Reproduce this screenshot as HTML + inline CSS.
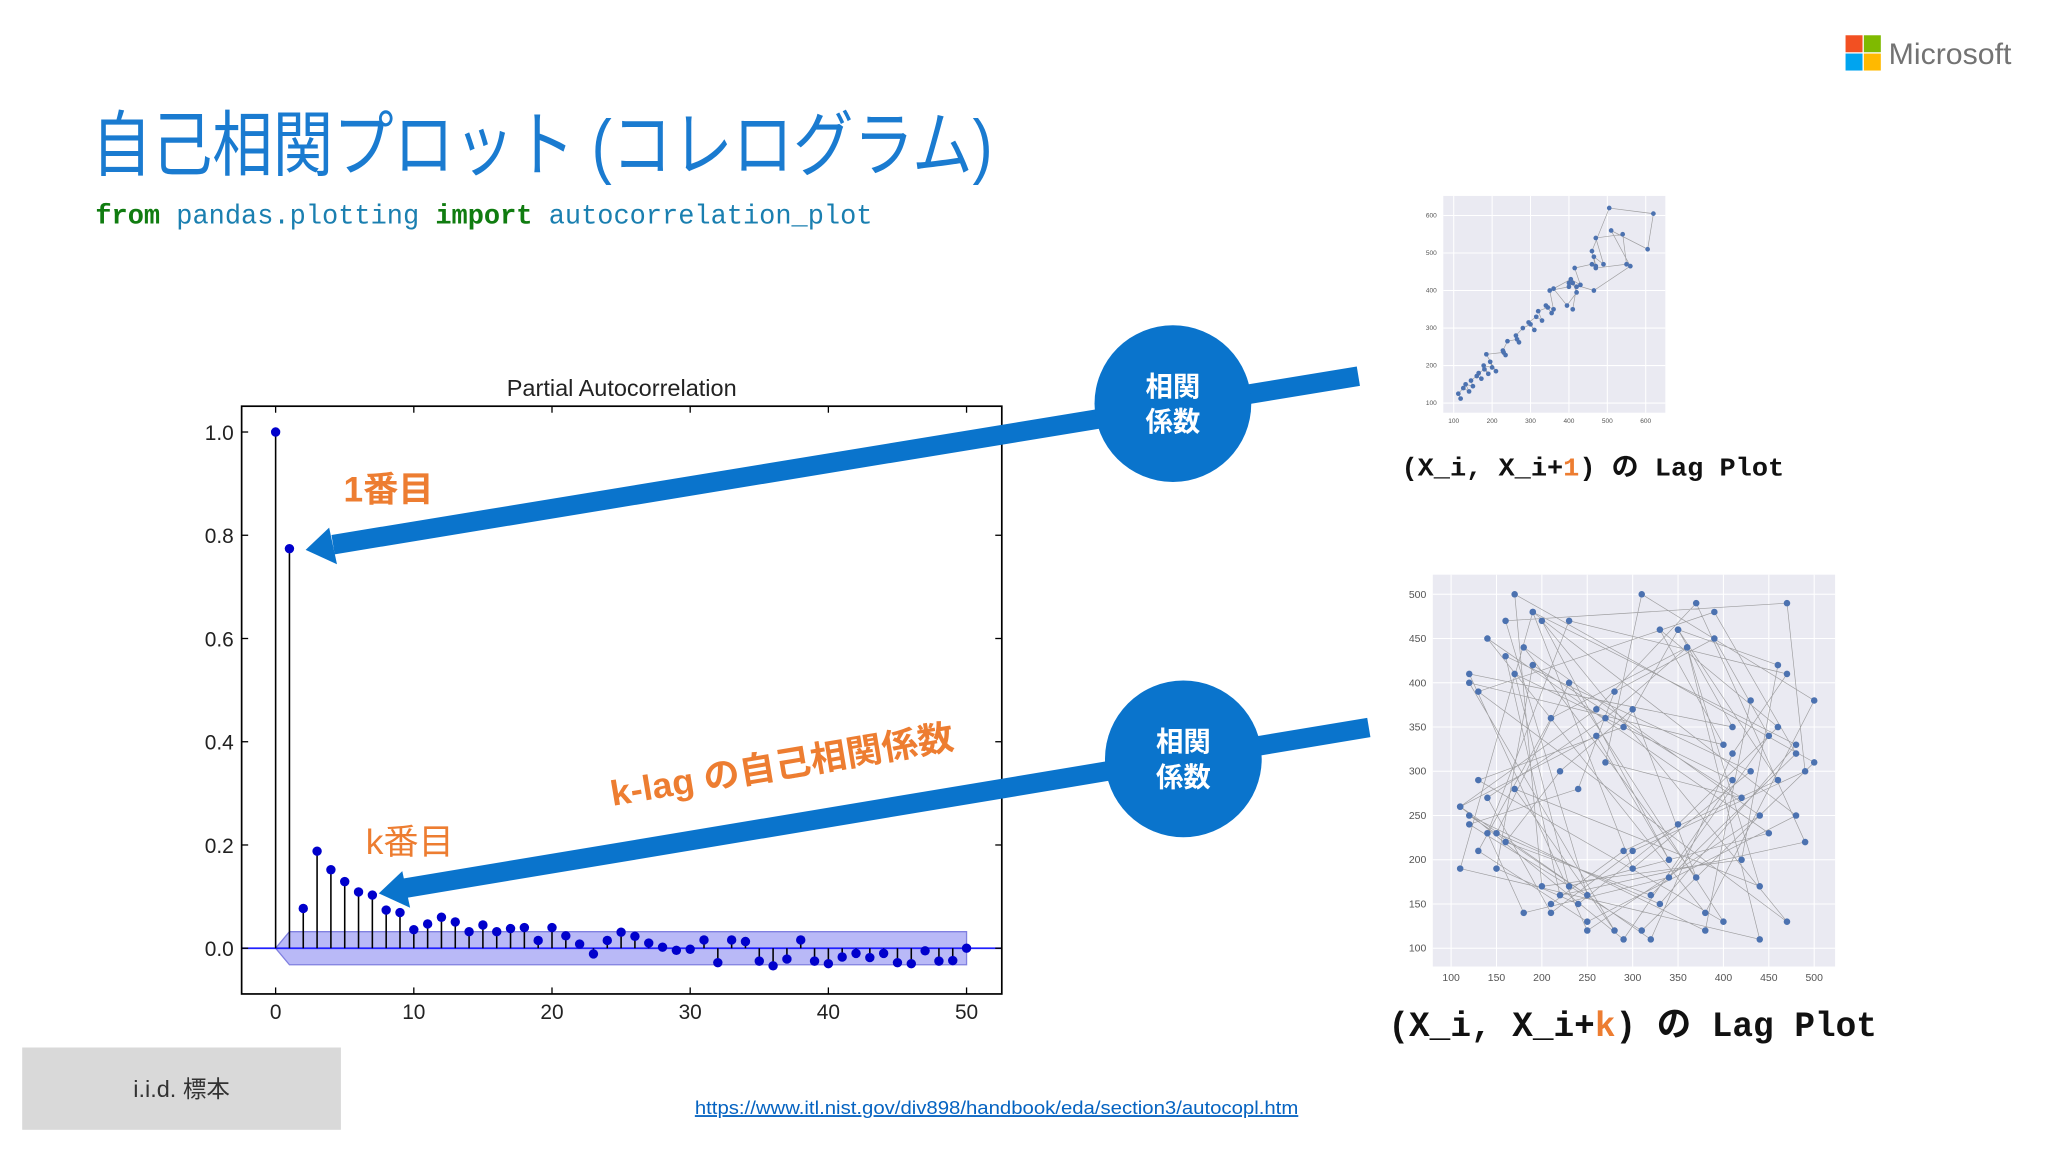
<!DOCTYPE html>
<html><head><meta charset="utf-8"><style>
html,body{margin:0;padding:0;background:#fff;}
svg{display:block;}
.jp{font-family:"Liberation Sans","Noto Sans CJK JP",sans-serif;}
.mono{font-family:"Liberation Mono","Noto Sans CJK JP",monospace;}
</style></head><body>
<svg id="root" width="2048" height="1152" viewBox="0 0 1568 882" xmlns="http://www.w3.org/2000/svg">
<rect width="1568" height="882" fill="#fff"/>
<g>
<rect x="1413" y="27" width="13" height="13" fill="#f25022"/>
<rect x="1427" y="27" width="13" height="13" fill="#7fba00"/>
<rect x="1413" y="41" width="13" height="13" fill="#00a4ef"/>
<rect x="1427" y="41" width="13" height="13" fill="#ffb900"/>
<text x="1446" y="49" class="jp" font-size="23" fill="#737373" textLength="94" lengthAdjust="spacingAndGlyphs">Microsoft</text>
</g>
<text x="70" y="130" class="jp" font-size="55" fill="#1a7bd0" textLength="690" lengthAdjust="spacingAndGlyphs">自己相関プロット (コレログラム)</text>
<text x="73" y="171" class="mono" font-size="21" textLength="595" lengthAdjust="spacingAndGlyphs"><tspan fill="#107c10" font-weight="bold">from</tspan><tspan fill="#1a7fb0"> pandas.plotting </tspan><tspan fill="#107c10" font-weight="bold">import</tspan><tspan fill="#1a7fb0"> autocorrelation_plot</tspan></text>

<g id="pacf"></g>
<g id="lag1"></g>
<g id="lagk"></g>

<g>
<g>
<line x1="1040" y1="288" x2="255" y2="417" stroke="#0a74cc" stroke-width="15"/>
<polygon points="234,421 252,404 258,432" fill="#0a74cc"/>
</g>
<g>
<line x1="1048" y1="557" x2="310" y2="680" stroke="#0a74cc" stroke-width="15"/>
<polygon points="290,684 308,667 314,695" fill="#0a74cc"/>
</g>
<circle cx="898" cy="309" r="60" fill="#0a74cc"/>
<text x="898" y="303" text-anchor="middle" class="jp" font-size="21" font-weight="bold" fill="#fff">相関</text>
<text x="898" y="330" text-anchor="middle" class="jp" font-size="21" font-weight="bold" fill="#fff">係数</text>
<circle cx="906" cy="581" r="60" fill="#0a74cc"/>
<text x="906" y="575" text-anchor="middle" class="jp" font-size="21" font-weight="bold" fill="#fff">相関</text>
<text x="906" y="602" text-anchor="middle" class="jp" font-size="21" font-weight="bold" fill="#fff">係数</text>
<text x="263" y="384" class="jp" font-size="27" font-weight="bold" fill="#ed7d31">1番目</text>
<text x="280" y="654" class="jp" font-size="27" fill="#ed7d31">k番目</text>
<text transform="translate(469,617) rotate(-9.5)" class="jp" font-size="27" font-weight="bold" fill="#ed7d31" textLength="266" lengthAdjust="spacingAndGlyphs">k-lag の自己相関係数</text>
</g>

<text x="1073" y="364" class="mono" font-size="20" font-weight="bold" fill="#111" textLength="293" lengthAdjust="spacingAndGlyphs">(X_i, X_i+<tspan fill="#ed7d31">1</tspan>) の Lag Plot</text>
<text x="1063" y="793" class="mono" font-size="27" font-weight="bold" fill="#111" textLength="374" lengthAdjust="spacingAndGlyphs">(X_i, X_i+<tspan fill="#ed7d31">k</tspan>) の Lag Plot</text>

<g>
<rect x="17" y="802" width="244" height="63" fill="#d9d9d9"/>
<text x="139" y="840" text-anchor="middle" class="jp" font-size="18" fill="#333">i.i.d. 標本</text>
</g>
<text x="532" y="853" class="jp" font-size="14" fill="#0563c1" text-decoration="underline" textLength="462" lengthAdjust="spacingAndGlyphs">https://www.itl.nist.gov/div898/handbook/eda/section3/autocopl.htm</text>
</svg>
<script>
const NS="http://www.w3.org/2000/svg";
const pacfLags=[0,1,2,3,4,5,6,7,8,9,10,11,12,13,14,15,16,17,18,19,20,21,22,23,24,25,26,27,28,29,30,31,32,33,34,35,36,37,38,39,40,41,42,43,44,45,46,47,48,49,50];
const pacfValues=[1.0,0.774,0.077,0.188,0.152,0.129,0.109,0.103,0.074,0.069,0.036,0.047,0.060,0.051,0.032,0.045,0.032,0.038,0.040,0.015,0.040,0.024,0.008,-0.011,0.015,0.031,0.023,0.010,0.002,-0.004,-0.002,0.016,-0.028,0.016,0.013,-0.025,-0.034,-0.021,0.016,-0.025,-0.030,-0.017,-0.010,-0.018,-0.010,-0.028,-0.030,-0.005,-0.025,-0.024,0.0];
const confBand=0.032;
const xTicks=[0,10,20,30,40,50];
const yTicks=[0.0,0.2,0.4,0.6,0.8,1.0];
const yTickLabels=["0.0","0.2","0.4","0.6","0.8","1.0"];
const lag1Series=[118,112,125,140,131,150,145,160,172,165,180,190,178,200,195,210,185,230,235,228,240,265,270,262,280,300,310,295,315,330,320,345,355,340,360,350,400,410,420,395,360,405,430,415,460,470,465,490,470,540,550,470,460,505,620,605,510,560,465,400,420,410,350];
const lagkSeries=[430,380,120,250,160,470,490,300,210,140,270,360,440,110,190,480,330,150,230,400,130,290,350,460,420,200,170,500,310,120,240,280,390,450,340,180,140,230,470,410,320,110,260,370,490,220,160,430,300,190,480,250,130,210,360,440,170,280,120,400,330,460,350,240,150,190,420,270,310,500,380,140,450,230,170,410,290,110,260,340,200,470,130,390,480,320,160,220,300,370,180,440,250,120,410,350,460,290,210,150];
const lag1Ticks=[100,200,300,400,500,600];
const lagkTicks=[100,150,200,250,300,350,400,450,500];

function mk(parent,tag,attrs,txt){const e=document.createElementNS(NS,tag);for(const k in attrs)e.setAttribute(k,attrs[k]);if(txt!==undefined)e.textContent=txt;parent.appendChild(e);return e;}

(function(){
const g=document.getElementById('pacf');
const L=185,R=767,T=311,B=761;
const xMin=-2.46,xMax=52.55,yMin=-0.0886,yMax=1.05;
const X=v=>L+(v-xMin)/(xMax-xMin)*(R-L);
const Y=v=>B-(v-yMin)/(yMax-yMin)*(B-T);
const t=mk(g,'text',{x:(L+R)/2,y:T-8,'text-anchor':'middle','font-size':18,fill:'#222',class:'jp'},'Partial Autocorrelation');


const last=pacfLags[pacfLags.length-1];
const band=mk(g,'polygon',{points:`${X(0)},${Y(0)} ${X(1)},${Y(confBand)} ${X(last)},${Y(confBand)} ${X(last)},${Y(-confBand)} ${X(1)},${Y(-confBand)}`,fill:'#8080f0','fill-opacity':0.55,stroke:'#8080e0'});


mk(g,'line',{x1:L,x2:R,y1:Y(0),y2:Y(0),stroke:'#2020ff','stroke-width':1.3});
pacfLags.forEach((lag,i)=>{
 const v=pacfValues[i];
 mk(g,'line',{x1:X(lag),x2:X(lag),y1:Y(0),y2:Y(v),stroke:'#000','stroke-width':1.2});
 const c=mk(g,'circle',{cx:X(lag),cy:Y(v),r:3.6,fill:'#0000cc'});
 
 
});
const f=mk(g,'rect',{x:L,y:T,width:R-L,height:B-T,fill:'none',stroke:'#000','stroke-width':1.3});


xTicks.forEach(v=>{
 mk(g,'line',{x1:X(v),x2:X(v),y1:B,y2:B-5,stroke:'#000'});
 mk(g,'line',{x1:X(v),x2:X(v),y1:T,y2:T+5,stroke:'#000'});
 const tl=mk(g,'text',{x:X(v),y:B+19,'text-anchor':'middle','font-size':16,fill:'#222',class:'jp'},String(v));
 
 
});
yTicks.forEach((v,i)=>{
 mk(g,'line',{x1:L,x2:L+5,y1:Y(v),y2:Y(v),stroke:'#000'});
 mk(g,'line',{x1:R,x2:R-5,y1:Y(v),y2:Y(v),stroke:'#000'});
 const tl=mk(g,'text',{x:L-6,y:Y(v)+6,'text-anchor':'end','font-size':16,fill:'#222',class:'jp'},yTickLabels[i]);
 
 
});
})();

function lagPlot(id,series,ticks,box,xr,yr,fs,r){
 const g=document.getElementById(id);
 const bg=mk(g,'rect',{x:box[0],y:box[1],width:box[2]-box[0],height:box[3]-box[1],fill:'#eaeaf2'});
 
 
 const X=v=>xr[0]+(v-ticks[0])/(ticks[ticks.length-1]-ticks[0])*(xr[1]-xr[0]);
 const Y=v=>yr[0]+(v-ticks[0])/(ticks[ticks.length-1]-ticks[0])*(yr[1]-yr[0]);
 ticks.forEach(v=>{
  mk(g,'line',{x1:X(v),x2:X(v),y1:box[1],y2:box[3],stroke:'#fff','stroke-width':0.8});
  mk(g,'line',{x1:box[0],x2:box[2],y1:Y(v),y2:Y(v),stroke:'#fff','stroke-width':0.8});
  const a=mk(g,'text',{x:X(v),y:box[3]+fs+3,'text-anchor':'middle','font-size':fs,fill:'#555',class:'jp'},String(v));
  
  
  const b=mk(g,'text',{x:box[0]-5,y:Y(v)+fs/3,'text-anchor':'end','font-size':fs,fill:'#555',class:'jp'},String(v));
  
  
 });
 let d='';
 for(let i=0;i<series.length-1;i++){d+=(i?'L':'M')+X(series[i]).toFixed(1)+','+Y(series[i+1]).toFixed(1);}
 const p=mk(g,'path',{d:d,fill:'none',stroke:'#888','stroke-width':0.5,'stroke-opacity':0.8});
 
 
 for(let i=0;i<series.length-1;i++){
  const c=mk(g,'circle',{cx:X(series[i]),cy:Y(series[i+1]),r:r,fill:'#4c72b0'});
  
  
 }
}
lagPlot('lag1',lag1Series,lag1Ticks,[1105,150,1275,316],[1113,1260],[308.6,165],5,1.8);
lagPlot('lagk',lagkSeries,lagkTicks,[1097,440,1405,740],[1111,1389],[726,455],8,2.5);
</script>
</body></html>
